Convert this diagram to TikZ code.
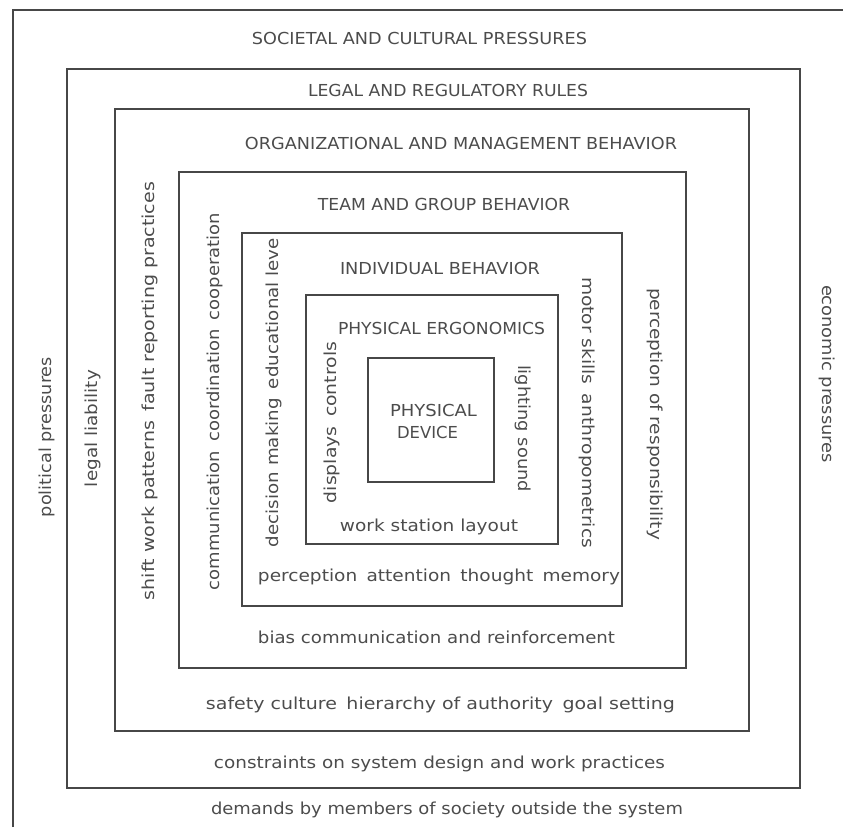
\documentclass[tikz,border=0pt]{standalone}
\usepackage{fontspec}
\setmainfont{DejaVu Sans}
\usepackage{graphicx}
\newcommand{\fw}[2]{\resizebox{#1}{\height}{#2}}
\tikzset{
  frame/.style={draw=black!72, line width=1.5pt},
  lbl/.style={inner sep=0pt, text=black!70, font=\fontsize{16.5}{19}\selectfont},
  lblL/.style={lbl, rotate=90},
  lblR/.style={lbl, rotate=-90},
}
\begin{document}
\begin{tikzpicture}[x=1pt,y=-1pt]
\useasboundingbox (0,0) rectangle (843,827);
% frames
\draw[frame] (13,827) -- (13,10) -- (843,10);
\draw[frame] (67,69) rectangle (800,788);
\draw[frame] (115,109) rectangle (749,731);
\draw[frame] (179,172) rectangle (686,668);
\draw[frame] (242,233) rectangle (622,606);
\draw[frame] (306,295) rectangle (558,544);
\draw[frame] (368,358) rectangle (494,482);
% horizontal labels
\node[lbl] (t1) at (419.5,38) {\fw{335pt}{SOCIETAL AND CULTURAL PRESSURES}};
\node[lbl] (t2) at (448,90) {\fw{280pt}{LEGAL AND REGULATORY RULES}};
\node[lbl] (t3) at (461,143) {\fw{432pt}{ORGANIZATIONAL AND MANAGEMENT BEHAVIOR}};
\node[lbl] (t4) at (444,204) {\fw{252pt}{TEAM AND GROUP BEHAVIOR}};
\node[lbl] (t5) at (440,268) {\fw{200pt}{INDIVIDUAL BEHAVIOR}};
\node[lbl] (t6) at (441.5,328) {\fw{207pt}{PHYSICAL ERGONOMICS}};
\node[lbl] (t7a) at (433.5,410) {\fw{87pt}{PHYSICAL}};
\node[lbl] (t7b) at (427.5,432) {\fw{61pt}{DEVICE}};
\node[lbl] (t8) at (429,527) {\fw{178pt}{work station layout}};
\node[lbl] (t9) at (439,577) {\fw{362pt}{perception\enspace attention\enspace thought\enspace memory}};
\node[lbl] (t10) at (436.5,637) {\fw{357pt}{bias communication and reinforcement}};
\node[lbl] (t11) at (440.5,705) {\fw{469pt}{safety culture\enspace hierarchy of authority\enspace goal setting}};
\node[lbl] (t12) at (439.5,764) {\fw{451pt}{constraints on system design and work practices}};
\node[lbl] (t13) at (447,810) {\fw{472pt}{demands by members of society outside the system}};
% vertical labels, left side
\node[lblL] (v1) at (47,437) {\fw{160pt}{political pressures}};
\node[lblL] (v2) at (93,428.5) {\fw{117pt}{legal liability}};
\node[lblL] (v3) at (150,391) {\fw{418pt}{shift work patterns\enspace fault reporting practices}};
\node[lblL] (v4) at (215,401.5) {\fw{377pt}{communication\enspace coordination\enspace cooperation}};
\node[lblL] (v5) at (274,392.5) {\fw{309pt}{decision making\enspace educational leve}};
\node[lblL] (v6) at (332,422.5) {\fw{161pt}{displays\enspace controls}};
% vertical labels, right side
\node[lblR] (v7) at (523,428.5) {\fw{127pt}{lighting sound}};
\node[lblR] (v8) at (587,412.5) {\fw{271pt}{motor skills\enspace anthropometrics}};
\node[lblR] (v9) at (655,414) {\fw{252pt}{perception of responsibility}};
\node[lblR] (v10) at (827,374) {\fw{178pt}{economic pressures}};
\end{tikzpicture}
\end{document}
